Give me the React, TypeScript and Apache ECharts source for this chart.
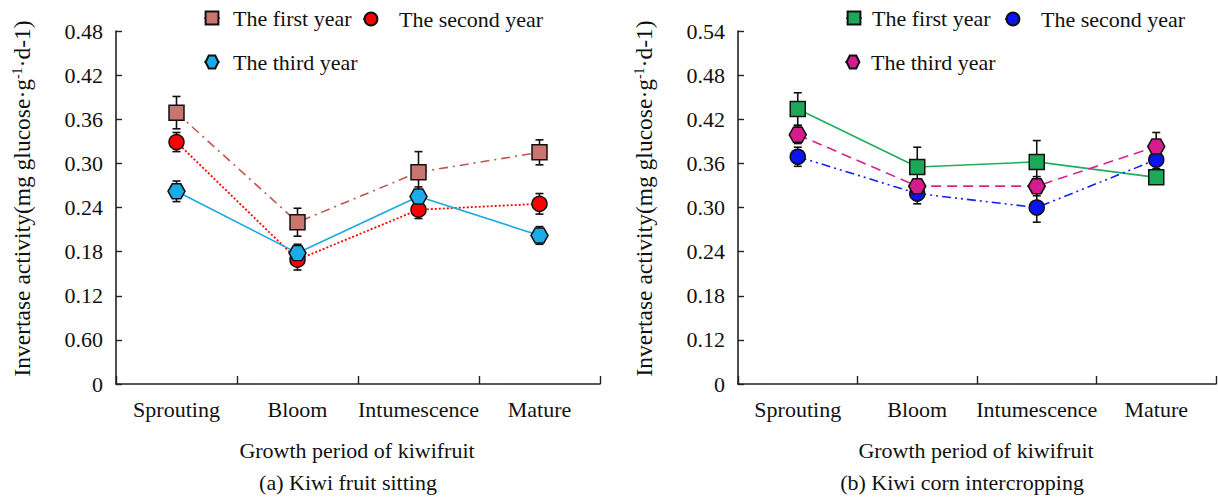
import React, { useEffect, useRef } from 'react';
import * as echarts from 'echarts';

const FONT = '"Liberation Serif", "Times New Roman", serif';

const categories = ['Sprouting', 'Bloom', 'Intumescence', 'Mature'];

// (a) Kiwi fruit sitting
const leftFirst = [0.369, 0.22, 0.288, 0.315];
const leftFirstErr = [0.022, 0.019, 0.028, 0.017];
const leftSecond = [0.329, 0.169, 0.237, 0.245];
const leftSecondErr = [0.013, 0.014, 0.012, 0.014];
const leftThird = [0.262, 0.178, 0.255, 0.202];
const leftThirdErr = [0.014, 0.012, 0.013, 0.012];

// (b) Kiwi corn intercropping
const rightFirst = [0.434, 0.355, 0.362, 0.341];
const rightFirstErr = [0.022, 0.027, 0.029, 0.005];
const rightSecond = [0.369, 0.319, 0.3, 0.365];
const rightSecondErr = [0.013, 0.014, 0.02, 0.012];
const rightThird = [0.399, 0.329, 0.329, 0.383];
const rightThirdErr = [0.012, 0.01, 0.013, 0.019];

const leftTickLabels = ['0', '0.60', '0.12', '0.18', '0.24', '0.30', '0.36', '0.42', '0.48'];
const rightTickLabels = ['0', '0.12', '0.18', '0.24', '0.30', '0.36', '0.42', '0.48', '0.54'];

const seriesNames = ['The first year', 'The second year', 'The third year'];
const SUFFIX_B = ' (b)';

const HEX = 'path://M0 50 L25 6.7 L75 6.7 L100 50 L75 93.3 L25 93.3 Z';

function errorSeries(id: string, values: number[], errs: number[], gi: number) {
  return {
    type: 'custom',
    id,
    name: id,
    xAxisIndex: gi,
    yAxisIndex: gi,
    z: 1,
    silent: true,
    renderItem: (params: any, api: any) => {
      const x = api.value(0);
      const lo = api.value(1);
      const hi = api.value(2);
      const t = api.coord([x, hi]);
      const b = api.coord([x, lo]);
      const cap = 4;
      const style = { stroke: '#111', lineWidth: 1.6 };
      return {
        type: 'group',
        children: [
          { type: 'line', shape: { x1: t[0], y1: t[1], x2: b[0], y2: b[1] }, style },
          { type: 'line', shape: { x1: t[0] - cap, y1: t[1], x2: t[0] + cap, y2: t[1] }, style },
          { type: 'line', shape: { x1: b[0] - cap, y1: b[1], x2: b[0] + cap, y2: b[1] }, style },
        ],
      };
    },
    data: values.map((v, i) => [i, v - errs[i], v + errs[i]]),
    encode: { x: 0, y: [1, 2] },
  };
}

function lineSeries(
  name: string,
  values: number[],
  gi: number,
  lineColor: string,
  fill: string,
  symbol: string,
  size: number | number[],
  dash: any,
  width = 1.6
) {
  return {
    type: 'line',
    name,
    xAxisIndex: gi,
    yAxisIndex: gi,
    z: 3,
    data: values,
    symbol,
    symbolSize: size,
    showAllSymbol: true,
    lineStyle: { color: lineColor, width, type: dash },
    itemStyle: { color: fill, borderColor: '#111', borderWidth: 1.5 },
    emphasis: { disabled: true },
  };
}

function makeLegend(name: string, left: number, top: number, pad: number) {
  return {
    data: [name],
    left,
    top,
    itemWidth: 16,
    itemHeight: 16,
    selectedMode: false,
    formatter: (n: string) => n.replace(SUFFIX_B, ''),
    textStyle: { fontFamily: FONT, fontSize: 22, color: '#111', padding: [0, 0, 0, pad] },
  };
}

function yAxisCfg(gi: number, min: number, max: number, labels: string[]) {
  return {
    type: 'value',
    gridIndex: gi,
    min,
    max,
    interval: 0.06,
    splitLine: { show: false },
    axisLine: { show: true, lineStyle: { color: '#222', width: 1.6 } },
    axisTick: { show: true, inside: true, length: 6, lineStyle: { color: '#222', width: 1.4 } },
    axisLabel: {
      fontFamily: FONT,
      fontSize: 22,
      color: '#111',
      margin: 13,
      formatter: (_v: number, idx: number) => labels[idx] ?? '',
    },
    name: 'Invertase activity(mg glucose·g{sup|-1}·d-1)',
    nameLocation: 'middle',
    nameRotate: 90,
    nameGap: 82,
    nameTextStyle: {
      fontFamily: FONT,
      fontSize: 23.5,
      color: '#111',
      padding: [0, 0, 0, 18],
      rich: {
        sup: { fontFamily: FONT, fontSize: 14, color: '#111', padding: [0, 0, 10, 0] },
      },
    },
  };
}

function xAxisCfg(gi: number) {
  return {
    type: 'category',
    gridIndex: gi,
    data: categories,
    boundaryGap: true,
    axisLine: { show: true, lineStyle: { color: '#222', width: 1.6 } },
    axisTick: { show: true, inside: true, length: 8, alignWithLabel: false, lineStyle: { color: '#222', width: 1.4 } },
    axisLabel: { fontFamily: FONT, fontSize: 22, color: '#111', margin: 14, interval: 0 },
    splitLine: { show: false },
  };
}

function text(str: string, x: number, y: number) {
  return {
    type: 'text',
    x,
    y,
    style: {
      text: str,
      font: `22px ${FONT}`,
      fill: '#111',
      textAlign: 'center',
      textVerticalAlign: 'middle',
      align: 'center',
      verticalAlign: 'middle',
    },
  };
}

export default function App() {
  const ref = useRef<HTMLDivElement>(null);
  useEffect(() => {
    if (!ref.current) return;
    const chart = echarts.init(ref.current, null, { renderer: 'svg' });
    const rn = seriesNames.map((n) => n + SUFFIX_B);
    const option: any = {
      animation: false,
      backgroundColor: '#fff',
      grid: [
        { left: 116, top: 31, width: 484, height: 353 },
        { left: 738, top: 31, width: 478, height: 353 },
      ],
      legend: [
        makeLegend(seriesNames[0], 198, 2, 8),
        makeLegend(seriesNames[1], 357, 3, 15),
        makeLegend(seriesNames[2], 198, 46, 8),
        makeLegend(rn[0], 840, 2, 5),
        makeLegend(rn[1], 999, 3, 15),
        makeLegend(rn[2], 839, 46, 5),
      ],
      xAxis: [xAxisCfg(0), xAxisCfg(1)],
      yAxis: [yAxisCfg(0, 0, 0.48, leftTickLabels), yAxisCfg(1, 0.06, 0.54, rightTickLabels)],
      graphic: [
        text('Growth period of kiwifruit', 357, 450),
        text('(a) Kiwi fruit sitting', 348, 482),
        text('Growth period of kiwifruit', 976, 450),
        text('(b) Kiwi corn intercropping', 962, 482),
      ],
      series: [
        errorSeries('eL1', leftFirst, leftFirstErr, 0),
        errorSeries('eL2', leftSecond, leftSecondErr, 0),
        errorSeries('eL3', leftThird, leftThirdErr, 0),
        errorSeries('eR1', rightFirst, rightFirstErr, 1),
        errorSeries('eR2', rightSecond, rightSecondErr, 1),
        errorSeries('eR3', rightThird, rightThirdErr, 1),
        lineSeries(seriesNames[0], leftFirst, 0, '#C0564F', '#C8766F', 'rect', 15, [9, 5, 2, 5]),
        lineSeries(seriesNames[1], leftSecond, 0, '#FF0000', '#FF0000', 'circle', 15, [2, 2], 1.8),
        lineSeries(seriesNames[2], leftThird, 0, '#1AA9E2', '#1AACE8', HEX, [17, 15], 'solid'),
        lineSeries(rn[0], rightFirst, 1, '#1DB05A', '#1BA858', 'rect', 15, 'solid'),
        lineSeries(rn[1], rightSecond, 1, '#1020F0', '#0A14F0', 'circle', 15, [9, 4, 2, 4, 2, 4]),
        lineSeries(rn[2], rightThird, 1, '#D9228F', '#D41C8C', HEX, [17, 15], [10, 6]),
      ],
    };
    chart.setOption(option);
    return () => chart.dispose();
  }, []);
  return (
    <div
      ref={ref}
      style={{ position: 'fixed', left: 0, top: 0, width: 1218, height: 498, background: '#fff' }}
    />
  );
}
